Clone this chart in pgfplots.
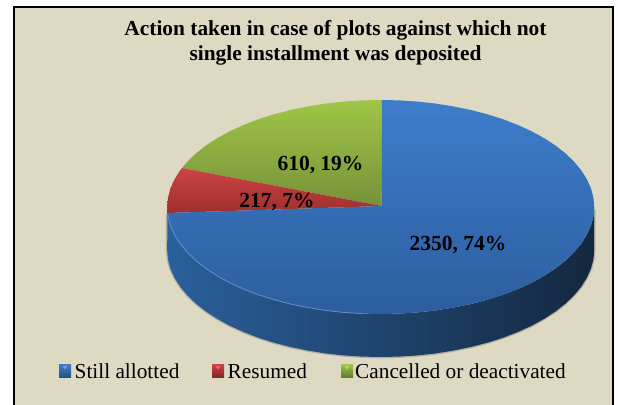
\documentclass[border=0pt]{standalone}
\usepackage{pgfplots}
\usepackage{fontspec}
\setmainfont{Liberation Serif}
\pgfplotsset{compat=1.18}
\definecolor{bgc}{HTML}{DDD9C3}
\definecolor{bluet}{HTML}{3E7DCB}\definecolor{blueb}{HTML}{2C5E9E}
\definecolor{greent}{HTML}{9FC646}\definecolor{greenb}{HTML}{76923A}
\definecolor{redt}{HTML}{CC4343}\definecolor{redb}{HTML}{9E2F2E}
\definecolor{sidel}{HTML}{2A609C}\definecolor{sidem}{HTML}{1B3A60}\definecolor{sider}{HTML}{14273F}
\begin{document}
\begin{tikzpicture}[x=1pt,y=1pt]
\path[use as bounding box] (0,0) rectangle (618pt,404pt);
\begin{axis}[at={(0,0)},anchor=south west,scale only axis,width=618pt,height=404pt,xmin=0,xmax=618,ymin=0,ymax=404,y dir=reverse,hide axis,clip=true,axis on top=false]
% frame
\addplot[fill=bgc,draw=black,line width=2pt,forget plot] coordinates {(13.5,7)(612.5,7)(612.5,420)(13.5,420)} --cycle;
% soft shadow
\addplot[draw=black!60!bgc,line width=2.6pt,opacity=.3,forget plot] coordinates {(167.2,213)(167.2,250)(168,259.3)(170.4,268.6)(174.5,277.7)(180.1,286.6)(187.2,295.2)(195.8,303.5)(205.8,311.4)(217.2,318.8)(229.7,325.7)(243.5,332)(258.2,337.7)(273.9,342.7)(290.5,347)(307.7,350.5)(325.4,353.4)(343.6,355.4)(362.1,356.6)(380.7,357)(399.3,356.6)(417.8,355.4)(436,353.4)(453.7,350.5)(470.9,347)(487.5,342.7)(503.2,337.7)(517.9,332)(531.7,325.7)(544.2,318.8)(555.6,311.4)(565.6,303.5)(574.2,295.2)(581.3,286.6)(586.9,277.7)(591,268.6)(593.4,259.3)(594.2,250)(594.2,210)};
% side wall
\addplot[shade,left color=sidel,middle color=sidem,right color=sider,draw=none,forget plot] coordinates {(167.4,213)(167.2,250)(168,259.3)(170.4,268.6)(174.5,277.7)(180.1,286.6)(187.2,295.2)(195.8,303.5)(205.8,311.4)(217.2,318.8)(229.7,325.7)(243.5,332)(258.2,337.7)(273.9,342.7)(290.5,347)(307.7,350.5)(325.4,353.4)(343.6,355.4)(362.1,356.6)(380.7,357)(399.3,356.6)(417.8,355.4)(436,353.4)(453.7,350.5)(470.9,347)(487.5,342.7)(503.2,337.7)(517.9,332)(531.7,325.7)(544.2,318.8)(555.6,311.4)(565.6,303.5)(574.2,295.2)(581.3,286.6)(586.9,277.7)(591,268.6)(593.4,259.3)(594.2,250)(594.2,207)(593.4,216.3)(591,225.6)(586.9,234.7)(581.3,243.6)(574.2,252.2)(565.6,260.5)(555.6,268.4)(544.2,275.8)(531.7,282.7)(517.9,289)(503.2,294.7)(487.5,299.7)(470.9,304)(453.7,307.5)(436,310.4)(417.8,312.4)(399.3,313.6)(380.7,314)(362.1,313.6)(343.6,312.4)(325.4,310.4)(307.7,307.5)(290.5,304)(273.9,299.7)(258.2,294.7)(243.5,289)(229.7,282.7)(217.2,275.8)(205.8,268.4)(195.8,260.5)(187.2,252.2)(180.1,243.6)(174.5,234.7)(170.4,225.6)(168,216.3)} --cycle;
% green slice (610)
\addplot[shade,top color=greent,bottom color=greenb,draw=none,forget plot] coordinates {(381.7,206)(382,100)(362.1,100.4)(343.6,101.6)(325.4,103.6)(307.7,106.5)(290.5,110)(273.9,114.3)(258.2,119.3)(243.5,125)(229.7,131.3)(217.2,138.2)(205.8,145.6)(195.8,153.5)(187.2,161.8)(182,168)} --cycle;
% red slice (217)
\addplot[shade,top color=redt,bottom color=redb,draw=none,forget plot] coordinates {(381.7,206)(182,168)(180.1,170.4)(174.5,179.3)(170.4,188.4)(168,197.7)(167.2,207)(167.4,213)} --cycle;
% blue slice (2350)
\addplot[shade,top color=bluet,bottom color=blueb,draw=none,forget plot] coordinates {(381.7,206)(167.4,213)(168,216.3)(170.4,225.6)(174.5,234.7)(180.1,243.6)(187.2,252.2)(195.8,260.5)(205.8,268.4)(217.2,275.8)(229.7,282.7)(243.5,289)(258.2,294.7)(273.9,299.7)(290.5,304)(307.7,307.5)(325.4,310.4)(343.6,312.4)(362.1,313.6)(380.7,314)(399.3,313.6)(417.8,312.4)(436,310.4)(453.7,307.5)(470.9,304)(487.5,299.7)(503.2,294.7)(517.9,289)(531.7,282.7)(544.2,275.8)(555.6,268.4)(565.6,260.5)(574.2,252.2)(581.3,243.6)(586.9,234.7)(591,225.6)(593.4,216.3)(594.2,207)(593.4,197.7)(591,188.4)(586.9,179.3)(581.3,170.4)(574.2,161.8)(565.6,153.5)(555.6,145.6)(544.2,138.2)(531.7,131.3)(517.9,125)(503.2,119.3)(487.5,114.3)(470.9,110)(453.7,106.5)(436,103.6)(417.8,101.6)(399.3,100.4)(382,100)} --cycle;
% rim highlight
\addplot[draw=bluet!80!white,line width=.9pt,opacity=.8,forget plot] coordinates {(167.6,213)(168,216.3)(170.4,225.6)(174.5,234.7)(180.1,243.6)(187.2,252.2)(195.8,260.5)(205.8,268.4)(217.2,275.8)(229.7,282.7)(243.5,289)(258.2,294.7)(273.9,299.7)(290.5,304)(307.7,307.5)(325.4,310.4)(343.6,312.4)(362.1,313.6)};
% legend keys
\addplot[shade,top color=bluet,bottom color=blueb!85!black,draw=none,forget plot] coordinates {(59,364.5)(71,364.5)(71,377)(59,377)} --cycle;
\addplot[fill=bluet!75!white,draw=none,forget plot] coordinates {(62.5,366)(67.5,366)(65,369.5)} --cycle;
\addplot[shade,top color=redt,bottom color=redb!85!black,draw=none,forget plot] coordinates {(212,364.5)(224,364.5)(224,377)(212,377)} --cycle;
\addplot[fill=redt!75!white,draw=none,forget plot] coordinates {(215.5,366)(220.5,366)(218,369.5)} --cycle;
\addplot[shade,top color=greent,bottom color=greenb!85!black,draw=none,forget plot] coordinates {(341,364.5)(353,364.5)(353,377)(341,377)} --cycle;
\addplot[fill=greent!75!white,draw=none,forget plot] coordinates {(344.5,366)(349.5,366)(347,369.5)} --cycle;
% text
\node[font=\bfseries\fontsize{21.4}{25}\selectfont,align=center,text=black] at (axis cs:335.5,43) {Action taken in case of plots against which not\\single installment was deposited};
\node[font=\bfseries\fontsize{21.5}{25}\selectfont] at (axis cs:458,245.5) {2350, 74\%};
\node[font=\bfseries\fontsize{21.5}{25}\selectfont] at (axis cs:320.5,165) {610, 19\%};
\node[font=\bfseries\fontsize{21.5}{25}\selectfont] at (axis cs:277,202) {217, 7\%};
\node[font=\fontsize{21.3}{24}\selectfont,anchor=west,inner sep=0pt] at (axis cs:74.5,371) {Still allotted};
\node[font=\fontsize{21.3}{24}\selectfont,anchor=west,inner sep=0pt] at (axis cs:227.5,371) {Resumed};
\node[font=\fontsize{21.3}{24}\selectfont,anchor=west,inner sep=0pt] at (axis cs:355,371) {Cancelled or deactivated};
\end{axis}
\end{tikzpicture}
\end{document}
